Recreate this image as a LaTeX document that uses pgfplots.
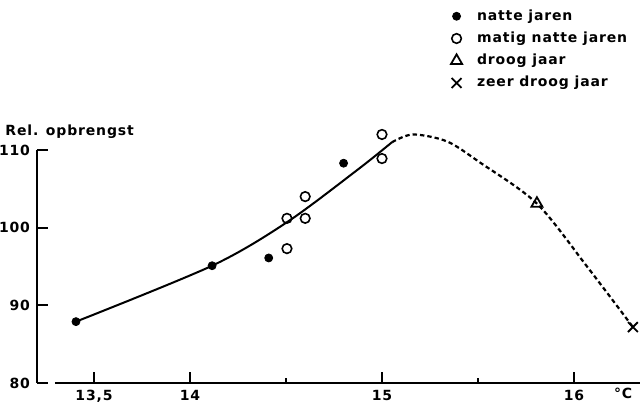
\documentclass[border=0pt]{standalone}
\usepackage{fontspec}
\setmainfont{DejaVu Sans}
\newfontfamily\labfont[LetterSpace=6]{DejaVu Sans}
\newcommand{\lf}{\labfont\fontsize{7}{8}\selectfont\bfseries}
\usepackage{pgfplots}
\pgfplotsset{compat=1.18}
\begin{document}
\begin{tikzpicture}
\begin{scope}[overlay]
\begin{axis}[
  name=ax,
  scale only axis,
  width=301.5pt, height=116.5pt,
  xmin=13.203, xmax=16.344,
  ymin=80, ymax=110,
  clip=false,
  axis x line*=bottom, axis y line*=left,
  axis line style={-, line width=1pt},
  x axis line style={shorten <=9pt},
  xtick={13.5,14,15,16},
  xticklabels={{13,5},{14},{15},{16}},
  minor xtick={14.5,15.5},
  ytick={80,90,100,110},
  xtick align=inside, ytick align=inside,
  major tick length=5.5pt,
  minor tick length=2.5pt,
  tick style={line width=0.9pt, black},
  /pgf/number format/assume math mode=true,
  tick label style={font=\lf},
  legend style={draw=none, fill=none, at={(0.676,1.635)}, anchor=north west,
    font=\lf, row sep=1.3pt, column sep=6pt, nodes={inner sep=1.5pt}},
  legend cell align=left,
]
% fitted curve, solid part
\addplot[black, line width=1pt, smooth, tension=0.5, forget plot] coordinates {
(13.406,87.9) (14.115,95.1) (14.505,100.7) (14.875,107.5) (15.052,111.0)};
% fitted curve, dashed part
\addplot[black, line width=1.1pt, smooth, tension=0.5, dash pattern=on 2.2pt off 1.5pt, forget plot] coordinates {
(15.052,111.0) (15.161,112.0) (15.339,111.1) (15.51,108.4) (15.807,103.1) (16.068,95.0) (16.307,87.2)};
% natte jaren
\addplot[only marks, mark=*, mark size=2pt, black] coordinates {
(13.406,87.9) (14.115,95.1) (14.41,96.1) (14.80,108.3)};
\addlegendentry{natte jaren}
% matig natte jaren
\addplot[only marks, mark=o, mark size=2.4pt, black, mark options={line width=0.8pt, fill=white}] coordinates {
(14.505,101.2) (14.505,97.3) (14.60,104.0) (14.60,101.2) (15.0,112.0) (15.0,108.9)};
\addlegendentry{matig natte jaren}
% droog jaar
\addplot[only marks, mark=triangle, mark size=3.2pt, black, mark options={line width=0.9pt, fill=white}] coordinates {
(15.807,103.1)};
\addlegendentry{droog jaar}
% zeer droog jaar
\addplot[only marks, mark=x, mark size=3.5pt, black, mark options={line width=0.9pt}] coordinates {
(16.307,87.2)};
\addlegendentry{zeer droog jaar}
\node[font=\lf, anchor=west, inner sep=0pt] at (rel axis cs:-0.053,1.08) {Rel. opbrengst};
\node[font=\lf, anchor=north, inner sep=2.3pt] at (rel axis cs:0.972,0) {°C};
\end{axis}
\end{scope}
\path ([shift={(-18.5pt,-11pt)}]ax.south west) rectangle ([shift={(0.5pt,75pt)}]ax.north east);
\end{tikzpicture}
\end{document}
